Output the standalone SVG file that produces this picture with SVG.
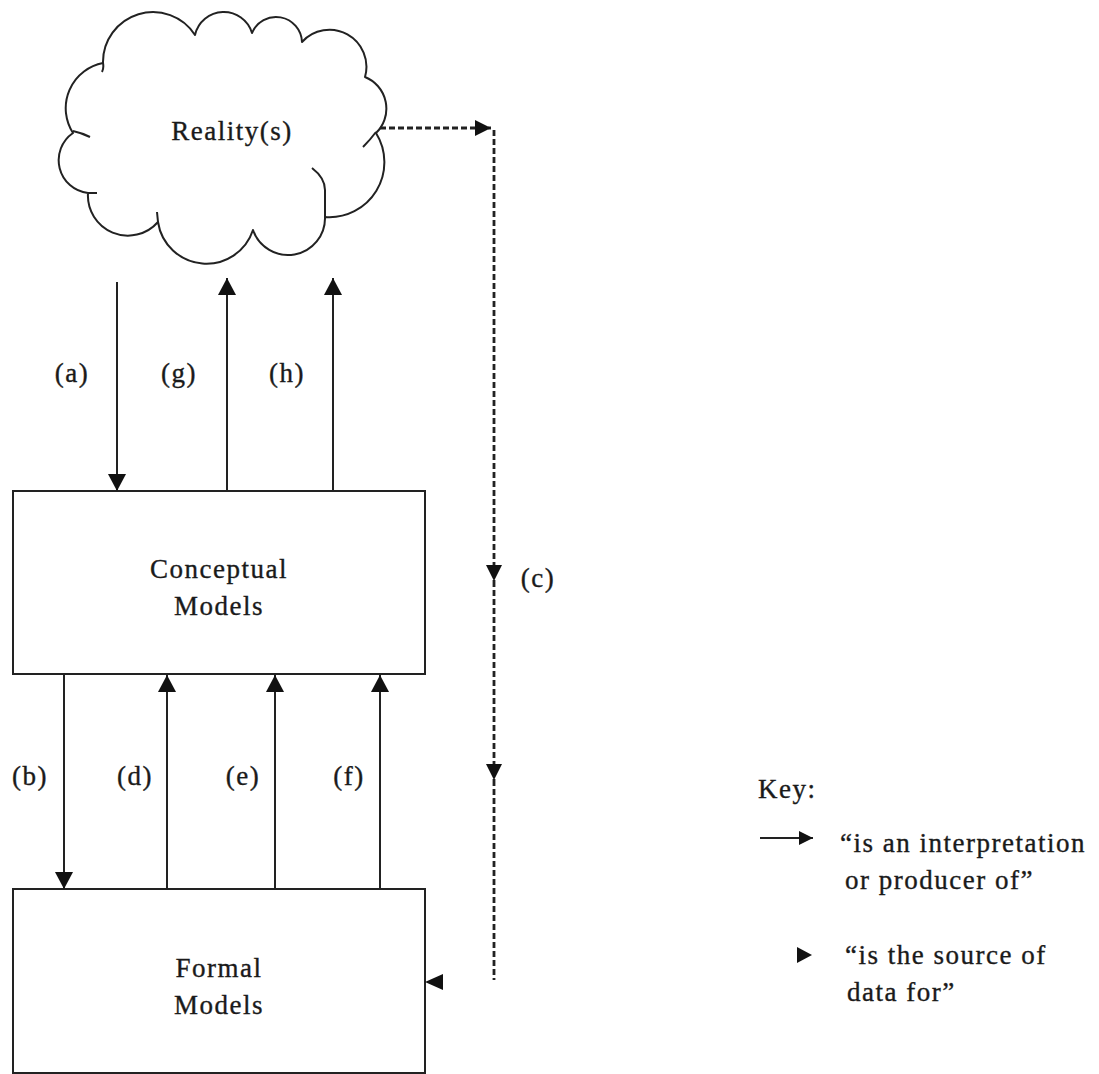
<svg xmlns="http://www.w3.org/2000/svg" width="1099" height="1074" viewBox="0 0 1099 1074">
<style>
.t{font-family:"Liberation Serif","Times New Roman",serif;font-size:27px;fill:#1a1a1a;stroke:#1a1a1a;stroke-width:0.35;letter-spacing:1.5px}
.c{text-anchor:middle}
.box{fill:#fff;stroke:#222;stroke-width:2}
.ln{stroke:#222;stroke-width:2;fill:none}
.dash{stroke:#222;stroke-width:2.8;fill:none;stroke-dasharray:6 3}
.cl{fill:#fff;stroke:#222;stroke-width:2;stroke-linejoin:round}
.tick{fill:none;stroke:#222;stroke-width:2}
.hd{fill:#111}
</style>
<defs>
<marker id="ah" markerUnits="userSpaceOnUse" markerWidth="17" markerHeight="18" viewBox="0 0 17 18" refX="17" refY="9" orient="auto"><path d="M0,0 L17,9 L0,18 Z" fill="#111"/></marker>
<marker id="dh" markerUnits="userSpaceOnUse" markerWidth="16" markerHeight="16" viewBox="0 0 16 16" refX="16" refY="8" orient="auto"><path d="M0,0 L16,8 L0,16 Z" fill="#111"/></marker>
<marker id="kh" markerUnits="userSpaceOnUse" markerWidth="14" markerHeight="14" viewBox="0 0 14 14" refX="14" refY="7" orient="auto"><path d="M0,0 L14,7 L0,14 Z" fill="#111"/></marker>
</defs>
<rect width="1099" height="1074" fill="#fff"/>

<g id="reality">
<path class="cl" d="M73,133 A46,46 0 0,1 103,63 A50,50 0 0,1 195,35 A29.5,29.5 0 0,1 252,33 A26,26 0 0,1 302,42 A37,37 0 0,1 365,77 A34,34 0 0,1 376,133 A55,55 0 0,1 325,217 A37,37 0 0,1 253,230 A49,49 0 0,1 158,222 A40,40 0 0,1 88,193 A33,33 0 0,1 73,133 Z"/>
<path class="tick" d="M73,131 Q82,133 90,137 M103,63 Q104,68 102,72 M376,132 Q370,140 363,147 M312,168 Q325,178 325,190 L325,217 M158,222 L157,212 M88,193 L97,193"/>
<text class="t c" x="232" y="140">Reality(s)</text>
</g>

<g id="conceptual">
<rect class="box" x="13" y="491" width="412" height="183"/>
<text class="t c" x="219" y="578">Conceptual</text>
<text class="t c" x="219" y="615">Models</text>
</g>

<g id="formal">
<rect class="box" x="13" y="889" width="412" height="184"/>
<text class="t c" x="219" y="977">Formal</text>
<text class="t c" x="219" y="1014">Models</text>
</g>

<g id="connectors">
<line class="ln" x1="117" y1="282" x2="117" y2="491" marker-end="url(#ah)"/>
<line class="ln" x1="227" y1="491" x2="227" y2="278" marker-end="url(#ah)"/>
<line class="ln" x1="333" y1="491" x2="333" y2="278" marker-end="url(#ah)"/>
<line class="ln" x1="64" y1="674" x2="64" y2="889" marker-end="url(#ah)"/>
<line class="ln" x1="167" y1="889" x2="167" y2="675" marker-end="url(#ah)"/>
<line class="ln" x1="275" y1="889" x2="275" y2="675" marker-end="url(#ah)"/>
<line class="ln" x1="380" y1="889" x2="380" y2="675" marker-end="url(#ah)"/>
<line class="dash" x1="380" y1="128" x2="491" y2="128" marker-end="url(#dh)"/>
<line class="dash" x1="494" y1="130" x2="494" y2="581" marker-end="url(#dh)"/>
<line class="dash" x1="494" y1="581" x2="494" y2="780" marker-end="url(#dh)"/>
<line class="dash" x1="494" y1="780" x2="494" y2="980"/>
<path class="hd" d="M425,982 L443,974 L443,990 Z"/>
</g>

<g id="labels">
<text class="t c" x="72" y="382">(a)</text>
<text class="t c" x="179" y="382">(g)</text>
<text class="t c" x="287" y="382">(h)</text>
<text class="t c" x="30" y="785">(b)</text>
<text class="t c" x="135" y="785">(d)</text>
<text class="t c" x="243" y="785">(e)</text>
<text class="t c" x="349" y="785">(f)</text>
<text class="t c" x="538" y="587">(c)</text>
</g>

<g id="key">
<text class="t" x="758" y="798">Key:</text>
<line class="ln" x1="760" y1="838" x2="813" y2="838" stroke-width="3" marker-end="url(#kh)"/>
<text class="t" x="840" y="852">“is an interpretation</text>
<text class="t" x="845" y="889">or producer of”</text>
<path class="hd" d="M797,947 L812,955 L797,963 Z"/>
<text class="t" x="845" y="964">“is the source of</text>
<text class="t" x="847" y="1001">data for”</text>
</g>
</svg>
